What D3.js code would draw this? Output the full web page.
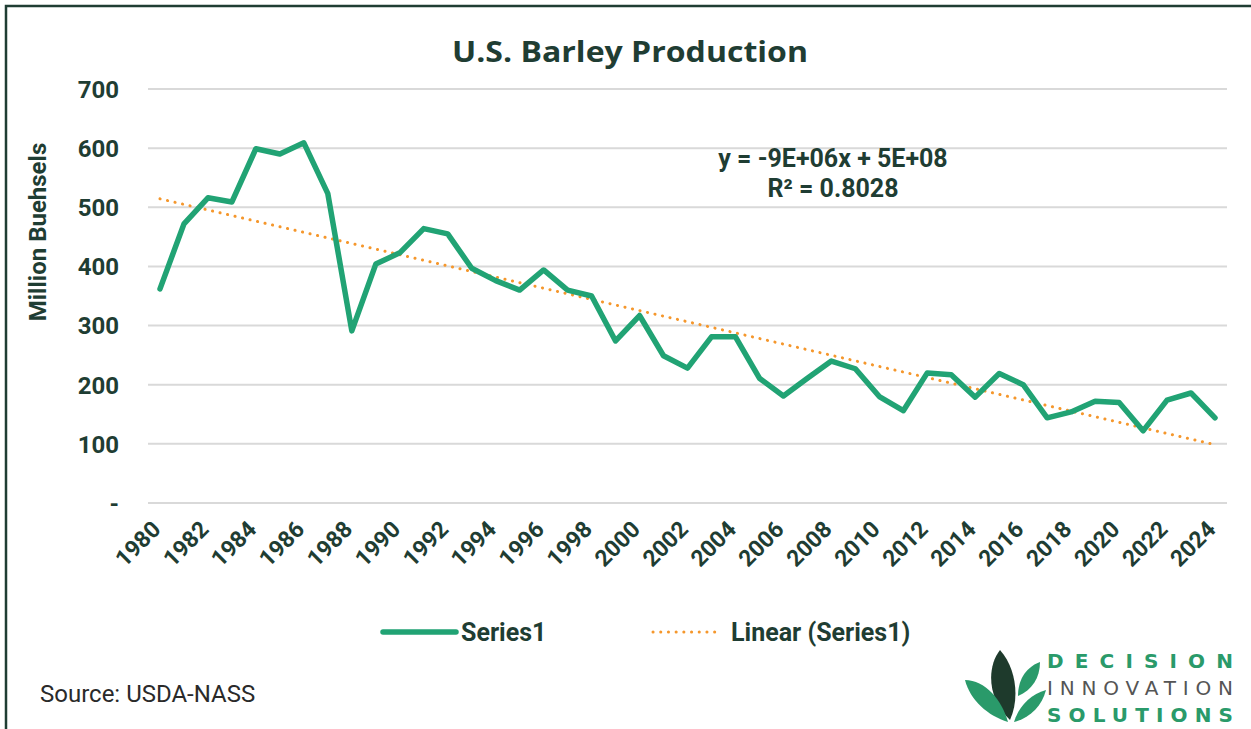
<!DOCTYPE html>
<html>
<head>
<meta charset="utf-8">
<script src="https://cdn.jsdelivr.net/npm/d3@7"></script>
<style>
  html, body { margin: 0; padding: 0; background: #fff; }
  svg { display: block; }
</style>
</head>
<body>
<svg id="chart" width="1251" height="729"></svg>
<script>
const years = d3.range(1980, 2025).map(String);
const production = [362, 472, 516, 509, 599, 590, 609, 523, 291, 404, 423, 464, 455, 397, 376, 360, 394, 360, 350, 274,
  317, 249, 228, 281, 281, 211, 181, 211, 240, 227, 180, 156, 220, 217, 179, 219, 200, 144, 154, 172,
  170, 122, 174, 186, 144];
const yTicks = [0, 100, 200, 300, 400, 500, 600, 700];
const xTickLabels = years.filter((d, i) => i % 2 === 0);
const titleText = "U.S. Barley Production";
const yAxisTitle = "Million Buehsels";
const equationLines = ["y = -9E+06x + 5E+08", "R\u00B2 = 0.8028"];
const legendLabels = ["Series1", "Linear (Series1)"];
const sourceText = "Source: USDA-NASS";

const dark = "#1f3d33";
const green = "#21a374";
const orange = "#f5972c";
const grid = "#d9d9d9";
const FS = 24;

const svg = d3.select("#chart");

// frame
svg.append("path").attr("d", "M6,729 L6,6 L1251,6").attr("fill", "none")
  .attr("stroke", dark).attr("stroke-width", 2.5);

const x = d3.scaleBand().domain(years).range([148, 1227]);
const y = d3.scaleLinear().domain([0, 700]).range([503, 89]);
const cx = d => x(d) + x.bandwidth() / 2;

// gridlines
svg.append("g").selectAll("line").data(yTicks).join("line")
  .attr("x1", 148).attr("x2", 1227)
  .attr("y1", d => y(d)).attr("y2", d => y(d))
  .attr("stroke", grid).attr("stroke-width", 2);

// y axis labels
const yAxis = d3.axisLeft(y).tickValues(yTicks).tickSize(0).tickPadding(0)
  .tickFormat(d => d === 0 ? "-" : d3.format("d")(d));
const yg = svg.append("g").attr("transform", "translate(119,0)").call(yAxis);
yg.select(".domain").remove();
yg.selectAll("text").attr("font-family", "Roboto").attr("font-weight", "bold")
  .attr("font-size", FS).attr("fill", dark).attr("dy", "0.35em");

// x axis labels
const xAxis = d3.axisBottom(x).tickValues(xTickLabels).tickSize(0).tickPadding(0);
const xg = svg.append("g").attr("transform", "translate(-11,521)").call(xAxis);
xg.select(".domain").remove();
xg.selectAll("text").attr("font-family", "Roboto").attr("font-weight", "bold")
  .attr("font-size", 23).attr("fill", dark)
  .attr("text-anchor", "end").attr("dy", "0.7em").attr("dx", "0.1em")
  .attr("transform", "rotate(-45)");

// y axis title
svg.append("text").attr("transform", "translate(46,232) rotate(-90)")
  .attr("text-anchor", "middle").attr("font-family", "Roboto").attr("font-weight", "bold")
  .attr("font-size", FS).attr("fill", dark).text(yAxisTitle);

// title
svg.append("text").attr("x", 630).attr("y", 62).attr("text-anchor", "middle")
  .attr("font-family", "Open Sans").attr("font-weight", "bold").attr("font-size", 29)
  .attr("fill", dark).attr("textLength", 356).attr("lengthAdjust", "spacingAndGlyphs").text(titleText);

// linear trend (least squares on data)
const xs = years.map((d, i) => i);
const mx = d3.mean(xs), my = d3.mean(production);
const slope = d3.sum(xs, (xi, i) => (xi - mx) * (production[i] - my)) / d3.sum(xs, xi => (xi - mx) ** 2);
const intercept = my - slope * mx;
const trend = years.map((d, i) => ({ yr: d, v: intercept + slope * i }));
svg.append("path").datum(trend)
  .attr("d", d3.line().x(d => cx(d.yr)).y(d => y(d.v)))
  .attr("fill", "none").attr("stroke", orange).attr("stroke-width", 3)
  .attr("stroke-linecap", "round").attr("stroke-dasharray", "0.1 7.6");

// series line
svg.append("path").datum(production)
  .attr("d", d3.line().x((d, i) => cx(years[i])).y(d => y(d)))
  .attr("fill", "none").attr("stroke", green).attr("stroke-width", 5.5)
  .attr("stroke-linejoin", "round").attr("stroke-linecap", "round");

// equation
equationLines.forEach((t, i) => {
  svg.append("text").attr("x", 833).attr("y", 167 + i * 30).attr("text-anchor", "middle")
    .attr("font-family", "Roboto").attr("font-weight", "bold").attr("font-size", 25)
    .attr("fill", dark).text(t);
});

// legend
const lg = svg.append("g");
lg.append("line").attr("x1", 383).attr("x2", 456).attr("y1", 632).attr("y2", 632)
  .attr("stroke", green).attr("stroke-width", 5.5).attr("stroke-linecap", "round");
lg.append("text").attr("x", 461).attr("y", 641).attr("font-family", "Roboto").attr("font-weight", "bold")
  .attr("font-size", 25).attr("fill", dark).text(legendLabels[0]);
lg.append("line").attr("x1", 653).attr("x2", 719).attr("y1", 632).attr("y2", 632)
  .attr("stroke", orange).attr("stroke-width", 3).attr("stroke-linecap", "round")
  .attr("stroke-dasharray", "0.1 7.6");
lg.append("text").attr("x", 731).attr("y", 641).attr("font-family", "Roboto").attr("font-weight", "bold")
  .attr("font-size", 25).attr("fill", dark).text(legendLabels[1]);

// source
svg.append("text").attr("x", 40).attr("y", 702).attr("font-family", "Roboto")
  .attr("font-size", FS).attr("fill", "#2a2a2a").text(sourceText);

// logo
const logo = svg.append("g");
logo.append("path").attr("d", "M1000,650 C986,668 988,700 1010,720 C1020,698 1016,668 1000,650 Z").attr("fill", "#1e3a2c");
logo.append("path").attr("d", "M1040,662 C1024,668 1018,682 1018,696 C1032,690 1040,678 1040,662 Z").attr("fill", "#2a9a6a");
logo.append("path").attr("d", "M965,680 C985,680 1002,700 1008,722 C988,716 970,700 965,680 Z").attr("fill", "#2a9a6a");
logo.append("path").attr("d", "M1046,690 C1030,694 1018,708 1014,722 C1030,718 1042,706 1046,690 Z").attr("fill", "#2a9a6a");
const logoText = [["DECISION", 668, "bold", "#2a9a6a"], ["INNOVATION", 695, "normal", "#555"], ["SOLUTIONS", 722, "bold", "#2a9a6a"]];
logoText.forEach(([t, yy, w, c]) => {
  logo.append("text").attr("x", 1047).attr("y", yy).attr("font-family", "DejaVu Sans")
    .attr("font-weight", w).attr("font-size", 20).attr("fill", c)
    .attr("textLength", 186).attr("lengthAdjust", "spacing").text(t);
});
</script>
</body>
</html>
